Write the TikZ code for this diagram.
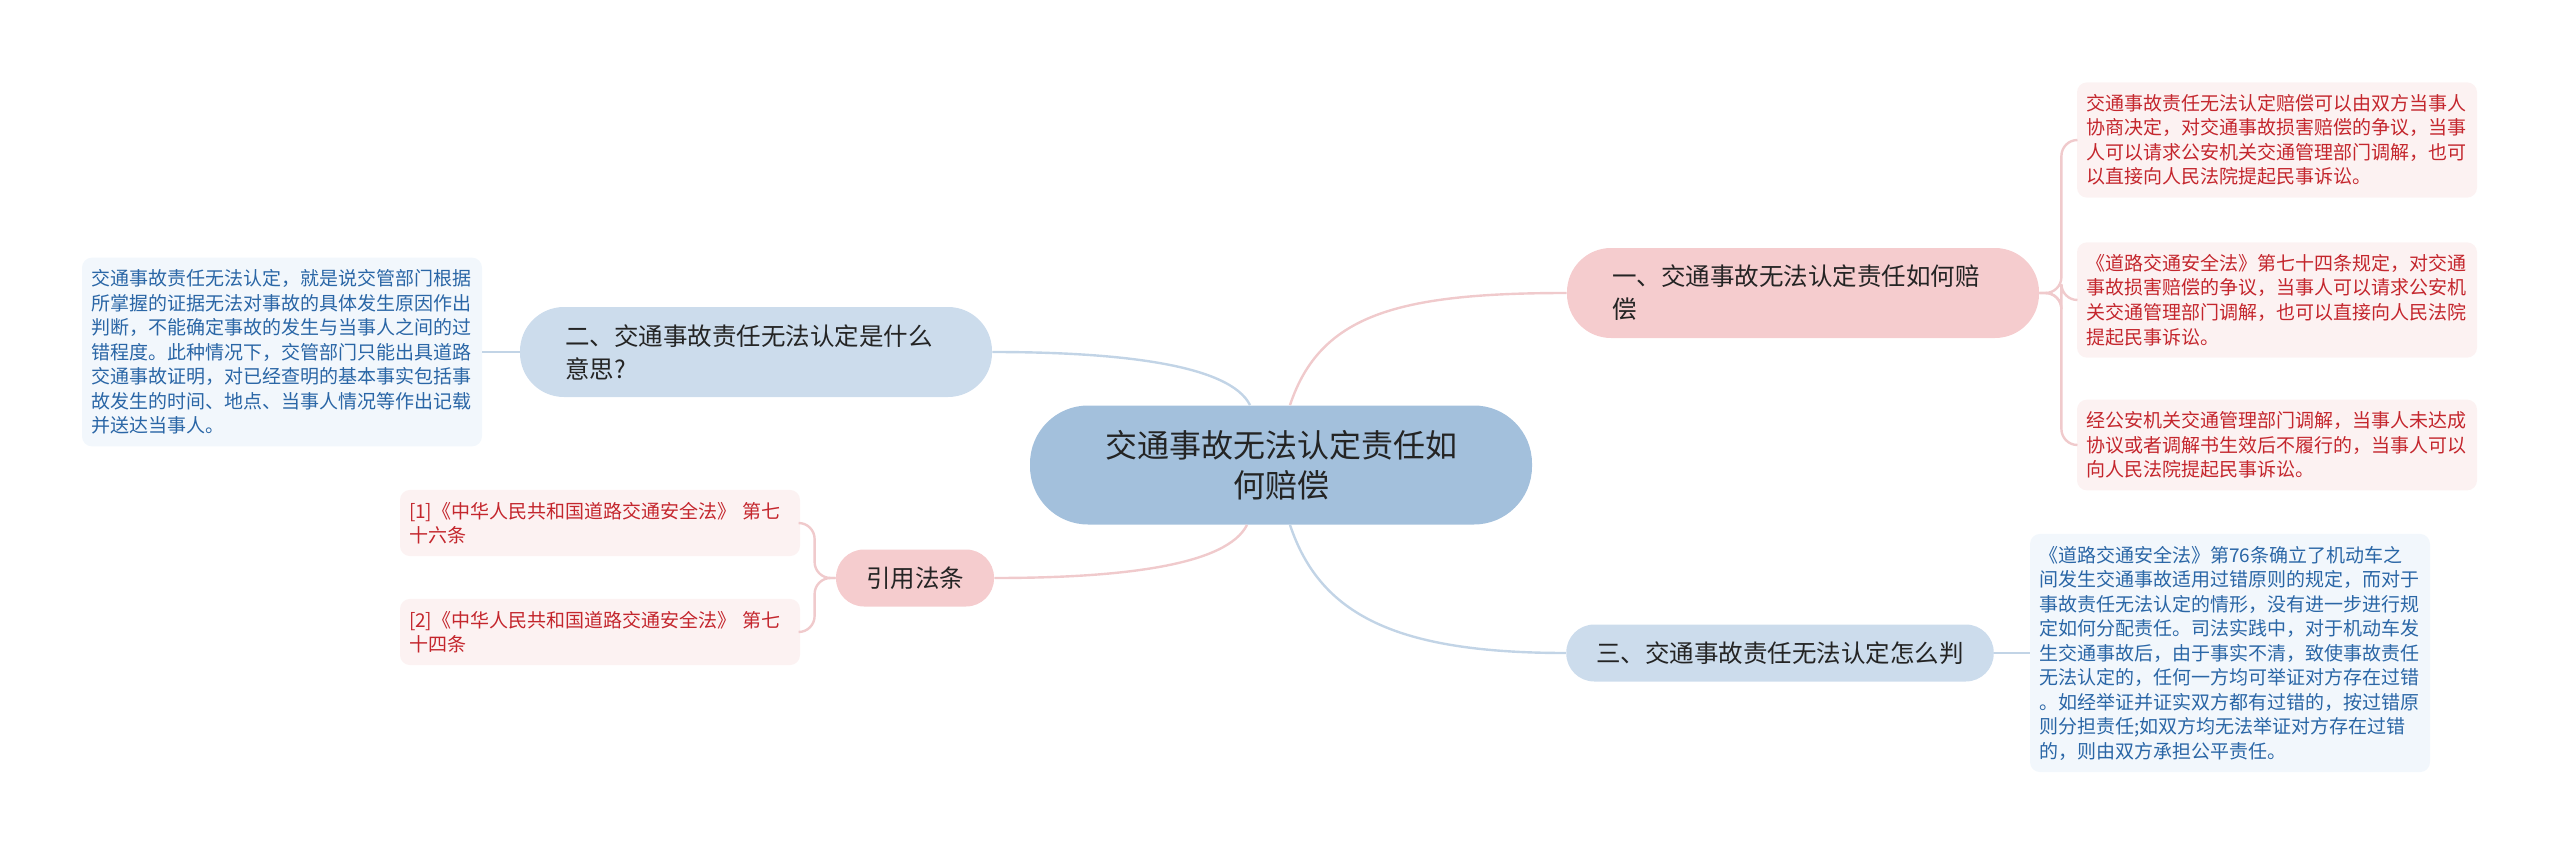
\documentclass[tikz,border=0pt]{standalone}
\usepackage{fontspec}
\setmainfont{Noto Sans CJK SC}
\definecolor{mmroot}{RGB}{163,192,220}
\definecolor{mmpink}{RGB}{245,204,206}
\definecolor{mmblue}{RGB}{204,220,236}
\definecolor{mmleafpink}{RGB}{252,242,242}
\definecolor{mmleafblue}{RGB}{242,247,252}
\definecolor{mmred}{RGB}{196,38,45}
\definecolor{mmtextblue}{RGB}{42,102,166}
\definecolor{mmdark}{RGB}{36,36,36}
\definecolor{mmlinkpink}{RGB}{240,202,204}
\definecolor{mmlinkblue}{RGB}{194,212,230}

\begin{document}
\begin{tikzpicture}[
    x=0.5pt, y=-0.5pt,
    rootbox/.style={fill=mmroot, text=mmdark, rounded corners=29pt, minimum height=59.5pt,
      text width=180pt, align=center, inner xsep=35.5pt, inner ysep=0pt,
      font=\fontsize{16pt}{20pt}\selectfont},
    branch/.style={text=mmdark, inner ysep=0pt, font=\fontsize{12.25pt}{16.5pt}\selectfont},
    branchpink/.style={branch, fill=mmpink},
    branchblue/.style={branch, fill=mmblue},
    twoline/.style={text width=191pt, align=left, inner xsep=22.5pt, minimum height=45pt, rounded corners=22pt},
    oneline/.style={inner xsep=15pt, minimum height=28.5pt, rounded corners=14pt},
    leaf/.style={rounded corners=5pt, text width=191pt, align=left, inner xsep=4.5pt, inner ysep=6pt,
      font=\fontsize{9.5pt}{12.25pt}\selectfont},
    leafpink/.style={leaf, fill=mmleafpink, text=mmred},
    leafblue/.style={leaf, fill=mmleafblue, text=mmtextblue},
    linkpink/.style={draw=mmlinkpink, line width=1.2pt},
    linkblue/.style={draw=mmlinkblue, line width=1.2pt},
  ]
  \useasboundingbox (0,0) rectangle (2560,856);

  % the root
  \node[rootbox] (root) at (1281,465) {交通事故无法认定责任如\\何赔偿};

  % main branches
  \node[branchpink, twoline] (b1) at (1803,293) {一、交通事故无法认定责任如何赔\\偿};
  \node[branchblue, twoline] (b2) at (756,352) {二、交通事故责任无法认定是什么\\意思?};
  \node[branchblue, oneline] (b3) at (1780,653) {三、交通事故责任无法认定怎么判};
  \node[branchpink, oneline] (b4) at (915,578) {引用法条};

  \draw[linkpink] ([xshift=4.5pt]root.north) .. controls +(30,-90) and +(-170,0) .. (b1.west);
  \draw[linkblue] ([xshift=-15.5pt]root.north) .. controls +(-20,-40) and +(130,0) .. (b2.east);
  \draw[linkpink] ([xshift=-17pt]root.south) .. controls +(-20,40) and +(130,0) .. (b4.east);
  \draw[linkblue] ([xshift=4.5pt]root.south) .. controls +(30,90) and +(-170,0) .. (b3.west);

  % leaves of the first branch
  \node[leafpink] (r1) at (2277,140) {交通事故责任无法认定赔偿可以由双方当事人\\协商决定，对交通事故损害赔偿的争议，当事\\人可以请求公安机关交通管理部门调解，也可\\以直接向人民法院提起民事诉讼。};
  \node[leafpink] (r2) at (2277,300) {《道路交通安全法》第七十四条规定，对交通\\事故损害赔偿的争议，当事人可以请求公安机\\关交通管理部门调解，也可以直接向人民法院\\提起民事诉讼。};
  \node[leafpink] (r3) at (2277,445) {经公安机关交通管理部门调解，当事人未达成\\协议或者调解书生效后不履行的，当事人可以\\向人民法院提起民事诉讼。};
  \foreach \leafname in {r1,r2,r3}
    \draw[linkpink, rounded corners=8pt] (b1.east) -- ++(22,0) |- (\leafname.west);

  % leaf of the second branch
  \node[leafblue] (l1) at (282,352) {交通事故责任无法认定，就是说交管部门根据\\所掌握的证据无法对事故的具体发生原因作出\\判断，不能确定事故的发生与当事人之间的过\\错程度。此种情况下，交管部门只能出具道路\\交通事故证明，对已经查明的基本事实包括事\\故发生的时间、地点、当事人情况等作出记载\\并送达当事人。};
  \draw[linkblue] (l1.east) -- (b2.west);

  % leaf of the third branch
  \node[leafblue] (r4) at (2230,653) {《道路交通安全法》第76条确立了机动车之\\间发生交通事故适用过错原则的规定，而对于\\事故责任无法认定的情形，没有进一步进行规\\定如何分配责任。司法实践中，对于机动车发\\生交通事故后，由于事实不清，致使事故责任\\无法认定的，任何一方均可举证对方存在过错\\。如经举证并证实双方都有过错的，按过错原\\则分担责任;如双方均无法举证对方存在过错\\的，则由双方承担公平责任。};
  \draw[linkblue] (b3.east) -- (r4.west);

  % cited articles
  \node[leafpink] (c1) at (600,523) {[1]《中华人民共和国道路交通安全法》 第七\\十六条};
  \node[leafpink] (c2) at (600,632) {[2]《中华人民共和国道路交通安全法》 第七\\十四条};
  \foreach \leafname in {c1,c2}
    \draw[linkpink, rounded corners=8pt] (b4.west) -- ++(-21,0) |- (\leafname.east);

\end{tikzpicture}
\end{document}
